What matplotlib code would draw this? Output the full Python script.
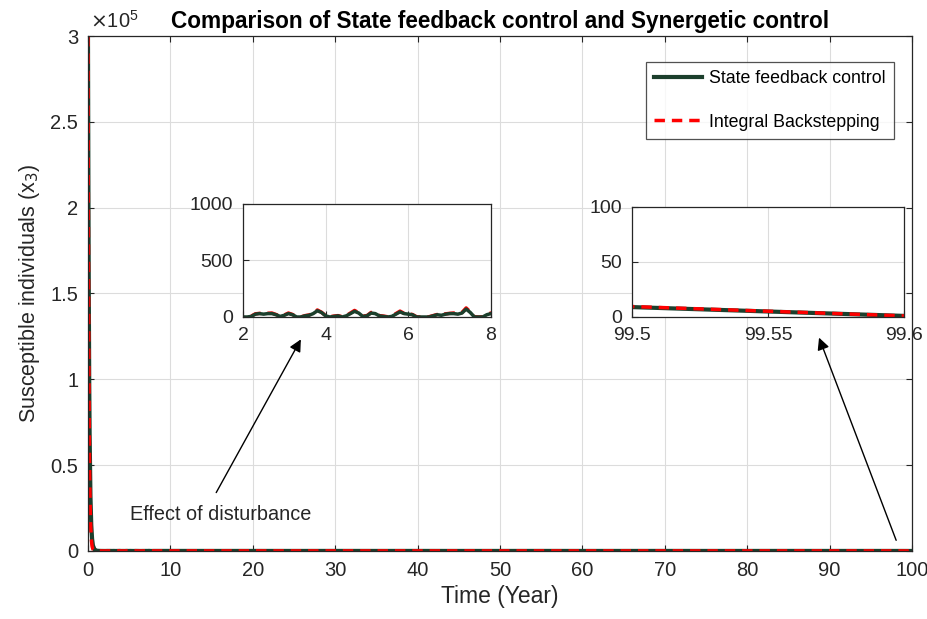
import numpy as np
import matplotlib
matplotlib.use("Agg")
import matplotlib.pyplot as plt
from matplotlib.ticker import FuncFormatter

plt.rcParams['font.family'] = ['Liberation Sans', 'DejaVu Sans']

# ---- data ----
# initial decay (time in years, susceptible individuals)
t_decay = [0.0, 0.05, 0.1, 0.15, 0.2, 0.3, 0.4, 0.5, 0.6, 0.8, 1.0, 1.3, 1.6, 2.0]
sfc_decay = [300000, 215000, 150000, 100000, 68000, 32000, 15000, 7000, 3200, 800, 200, 60, 20, 0]
ib_decay = [300000, 190000, 120000, 75000, 46000, 18000, 7000, 2600, 1000, 200, 50, 20, 10, 0]

# disturbance period 2.1 .. 8.0 (step 0.1)
t_dist = [round(2.1 + 0.1 * i, 1) for i in range(60)]
sfc_dist = [0, 5, 25, 30, 25, 30, 30, 20, 5, 15, 30, 20, 0, 0, 10, 15, 30, 55, 40, 10,
            0, 5, 10, 0, 10, 30, 50, 35, 5, 10, 35, 30, 10, 5, 0, 5, 25, 45, 30, 25,
            20, 0, 0, 0, 0, 10, 20, 15, 25, 30, 30, 25, 35, 70, 40, 0, 0, 0, 20, 30]
ib_dist = [0, 8, 28, 32, 28, 33, 35, 22, 8, 18, 35, 22, 2, 0, 12, 18, 35, 62, 42, 12,
           2, 8, 12, 2, 12, 35, 58, 38, 8, 12, 40, 32, 12, 8, 2, 8, 30, 52, 32, 28,
           22, 2, 0, 0, 2, 12, 22, 18, 28, 32, 35, 28, 40, 80, 45, 2, 0, 2, 22, 35]

# remaining horizon
t_late = [10, 15, 20, 25, 30, 35, 40, 45, 50, 55, 60, 65, 70, 75, 80, 85, 90, 95, 99.0, 99.5, 99.6, 100]
sfc_late = [30, 20, 25, 15, 30, 20, 25, 15, 20, 25, 15, 20, 25, 15, 20, 25, 15, 20, 14, 9, 1, 0]
ib_late = [32, 22, 27, 17, 32, 22, 27, 17, 22, 27, 17, 22, 27, 17, 22, 27, 17, 22, 14, 9.5, 1, 0]

t_all = np.array(t_decay + t_dist + t_late)
sfc_all = np.array(sfc_decay + sfc_dist + sfc_late, dtype=float)
ib_all = np.array(ib_decay + ib_dist + ib_late, dtype=float)

labels = ['State feedback control', 'Integral Backstepping']
green = '#1c3f2c'
red = '#ff0000'
txt = '#262626'

fig = plt.figure(figsize=(9.27, 6.19), dpi=100)
ax = fig.add_axes([0.0949, 0.1099, 0.8889, 0.8319])

def style(a, fs=13, pad=5):
    a.grid(True, color='#dcdcdc', linewidth=0.8)
    a.set_axisbelow(True)
    a.tick_params(direction='in', labelsize=fs, colors=txt, length=4,
                  top=True, right=True, pad=pad)
    for s in a.spines.values():
        s.set_color(txt)
        s.set_linewidth(0.9)

ax.plot(t_all, sfc_all, color=green, lw=3, label=labels[0])
ax.plot(t_all, ib_all, color=red, lw=2.5, ls=(0, (3, 2)), label=labels[1])
ax.set_xlim(0, 100)
ax.set_ylim(0, 3e5)
ax.set_xticks(np.arange(0, 101, 10))
ax.set_yticks(np.arange(0, 3.01e5, 0.5e5))
ax.yaxis.set_major_formatter(FuncFormatter(lambda v, p: '%g' % (v / 1e5)))
style(ax, fs=14.5, pad=7)
ax.text(0.003, 1.008, r'$\times\mathregular{10^5}$', transform=ax.transAxes,
        fontsize=14.5, color=txt, ha='left', va='bottom')
ax.set_xlabel('Time (Year)', fontsize=16.5, color=txt, labelpad=4)
ax.set_ylabel('Susceptible individuals (x$_3$)', fontsize=15.5, color=txt, labelpad=6)
ax.set_title('Comparison of State feedback control and Synergetic control',
             fontsize=16.3, fontweight='bold', pad=6)

leg = ax.legend(loc='upper right', fontsize=12.8, frameon=True, fancybox=False,
                edgecolor=txt, labelspacing=1.5, handlelength=2.7, handletextpad=0.4,
                borderpad=0.45, bbox_to_anchor=(0.9885, 0.967))
leg.get_frame().set_linewidth(0.9)

ax.annotate('', xy=(26.0, 1.247e5), xytext=(15.4, 0.326e5),
            arrowprops=dict(arrowstyle='-|>', color='black', lw=1.0,
                            mutation_scale=18))
ax.text(5.1, 0.21e5, 'Effect of disturbance', fontsize=14.3, color=txt,
        va='center', ha='left')
ax.annotate('', xy=(88.6, 1.258e5), xytext=(98.2, 0.047e5),
            arrowprops=dict(arrowstyle='-|>', color='black', lw=1.0,
                            mutation_scale=18))

# inset 1
ax1 = fig.add_axes([0.2621, 0.4879, 0.2675, 0.1826])
ax1.plot(t_all, ib_all, color=red, lw=2.5, ls=(0, (3, 2)))
ax1.plot(t_all, sfc_all, color=green, lw=2.5)
ax1.set_xlim(2, 8)
ax1.set_ylim(0, 1000)
ax1.set_xticks([2, 4, 6, 8])
ax1.set_yticks([0, 500, 1000])
style(ax1, fs=14, pad=7)
ax1.tick_params(top=False, right=False)

# inset 2
ax2 = fig.add_axes([0.6818, 0.4879, 0.2934, 0.1777])
ax2.plot(t_all, sfc_all, color=green, lw=3)
ax2.plot(t_all, ib_all, color=red, lw=2.5, ls=(0, (3, 2)))
ax2.set_xlim(99.5, 99.6)
ax2.set_ylim(0, 100)
ax2.set_xticks([99.5, 99.55, 99.6])
ax2.set_xticklabels(['99.5', '99.55', '99.6'])
ax2.set_yticks([0, 50, 100])
style(ax2, fs=14, pad=7)
ax2.tick_params(top=False, right=False)

fig.savefig('out.png', dpi=100, facecolor='white')
